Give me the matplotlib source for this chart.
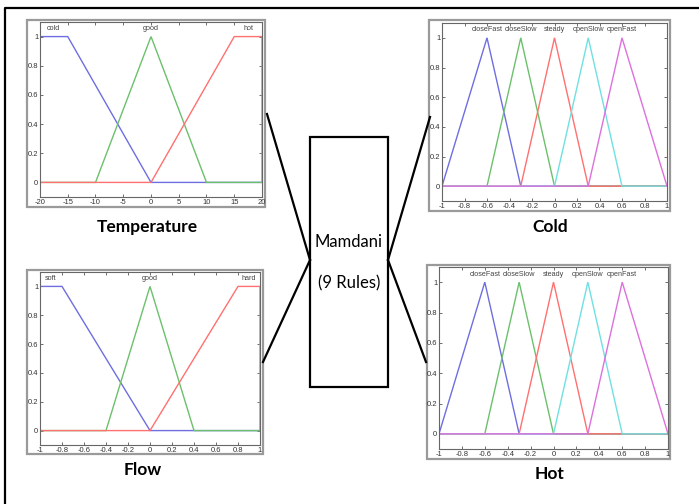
import numpy as np
import matplotlib
matplotlib.use("Agg")
from matplotlib import pyplot as plt
from matplotlib.patches import Rectangle
from matplotlib.lines import Line2D

W, H = 699, 504

# membership functions (MATLAB trapmf / trimf parameters)
temp_names = ["cold", "good", "hot"]
temp_params = [[-20, -20, -15, 0], [-10, 0, 10], [0, 15, 20, 20]]
temp_ticks = [-20, -15, -10, -5, 0, 5, 10, 15, 20]

flow_names = ["soft", "good", "hard"]
flow_params = [[-1, -1, -0.8, 0], [-0.4, 0, 0.4], [0, 0.8, 1, 1]]

valve_names = ["closeFast", "closeSlow", "steady", "openSlow", "openFast"]
valve_params = [[-1, -0.6, -0.3], [-0.6, -0.3, 0], [-0.3, 0, 0.3],
                [0, 0.3, 0.6], [0.3, 0.6, 1]]

unit_ticks = [-1, -0.8, -0.6, -0.4, -0.2, 0, 0.2, 0.4, 0.6, 0.8, 1]
y_ticks = [0, 0.2, 0.4, 0.6, 0.8, 1]

colors = ["#6e6ee0", "#6cc06c", "#ff7070", "#70e0e0", "#dd70dd"]


def px_box(l, t, r, b):
    return [l / W, 1 - b / H, (r - l) / W, (b - t) / H]


def mf_points(p):
    # corner points of a triangle / trapezoid
    if len(p) == 3:
        return [p[0], p[1], p[2]], [0, 1, 0]
    return [p[0], p[1], p[2], p[3]], [0, 1, 1, 0]


def mf_plot(fig, frame, axbox, names, params, xticks, xlim):
    fr = Rectangle((frame[0] / W, 1 - frame[3] / H), (frame[2] - frame[0]) / W,
                   (frame[3] - frame[1]) / H, transform=fig.transFigure,
                   facecolor="white", edgecolor="#9a9a9a", lw=1.6, zorder=-1)
    fig.patches.append(fr)
    ax = fig.add_axes(px_box(*axbox))
    ax.set_zorder(2)
    for i, p in enumerate(params):
        xs, ys = mf_points(p)
        xs = [xlim[0]] + xs + [xlim[1]]
        ys = [0] + ys + [0]
        ax.plot(xs, ys, color=colors[i], lw=1.0, solid_joinstyle="miter")
        peak = np.mean(p[1:-1]) if len(p) == 4 else p[1]
        ax.text(peak, 1.03, names[i], ha="center", va="bottom",
                fontsize=5.2, color="#444444", family="Liberation Sans")
    ax.set_xlim(xlim)
    ax.set_ylim(-0.1, 1.1)
    ax.set_xticks(xticks)
    ax.set_xticklabels([f"{v:g}" for v in xticks])
    ax.set_yticks(y_ticks)
    ax.set_yticklabels([f"{v:g}" for v in y_ticks])
    ax.tick_params(direction="in", top=True, right=True, length=2.5, width=0.6,
                   labelsize=5.5, pad=1.2, colors="#555555", labelcolor="#333333")
    for lab in ax.get_xticklabels() + ax.get_yticklabels():
        lab.set_family("Liberation Sans")
    for s in ax.spines.values():
        s.set_color("#666666")
        s.set_linewidth(0.8)
    return ax


fig = plt.figure(figsize=(W / 100, H / 100), dpi=100)

mf_plot(fig, (27, 20, 265, 207), (40, 22, 262, 197),
        temp_names, temp_params, temp_ticks, (-20, 20))
mf_plot(fig, (27, 270, 263, 454), (40, 272, 260, 445),
        flow_names, flow_params, unit_ticks, (-1, 1))
mf_plot(fig, (429, 20, 670, 211), (442, 23, 667, 201),
        valve_names, valve_params, unit_ticks, (-1, 1))
mf_plot(fig, (427, 265, 670, 459), (439, 267, 668, 449),
        valve_names, valve_params, unit_ticks, (-1, 1))

# panel captions
caps = [("Temperature", 147, 227), ("Cold", 550, 227),
        ("Flow", 143, 470), ("Hot", 550, 474)]
for txt, cx, cy in caps:
    fig.text(cx / W, 1 - cy / H, txt, ha="center", va="center",
             fontsize=12.5, fontweight="bold", family="Lato")

# rule block in the middle
fig.patches.append(Rectangle((310 / W, 1 - 387 / H), 78 / W, 250 / H,
                             transform=fig.transFigure, facecolor="white",
                             edgecolor="black", lw=1.6))
fig.text(349 / W, 1 - 242 / H, "Mamdani", ha="center", va="center",
         fontsize=12, family="Lato")
fig.text(349 / W, 1 - 283 / H, "(9 Rules)", ha="center", va="center",
         fontsize=12, family="Lato")

# connectors
links = [((267, 114), (310, 260)), ((263, 362), (310, 260)),
         ((430, 117), (388, 260)), ((426, 362), (388, 260))]
for (x0, y0), (x1, y1) in links:
    fig.lines.append(Line2D([x0 / W, x1 / W], [1 - y0 / H, 1 - y1 / H],
                            transform=fig.transFigure, color="black", lw=1.6))

# outer border, open at right and bottom
fig.lines.append(Line2D([5 / W, 5 / W, 1.0], [0.0, 1 - 8 / H, 1 - 8 / H],
                        transform=fig.transFigure, color="black", lw=1.6))

fig.savefig("out.png", dpi=100)
